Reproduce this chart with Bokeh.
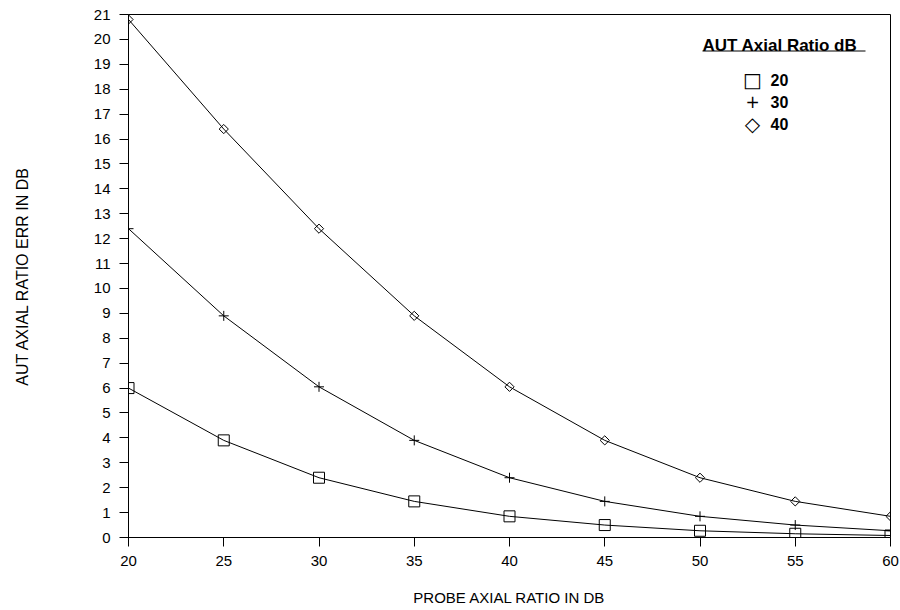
import numpy as np
from bokeh.plotting import figure
from bokeh.models import Range1d, FixedTicker, Label, BoxAnnotation
from bokeh.embed import file_html
from bokeh.resources import INLINE

# Data
probe_ar = [20, 25, 30, 35, 40, 45, 50, 55, 60]
err_aut20 = [6.0, 3.9, 2.4, 1.45, 0.85, 0.5, 0.27, 0.15, 0.08]
err_aut30 = [12.4, 8.9, 6.05, 3.9, 2.4, 1.45, 0.85, 0.5, 0.27]
err_aut40 = [20.8, 16.4, 12.4, 8.9, 6.05, 3.9, 2.4, 1.45, 0.85]
series_labels = ["20", "30", "40"]
legend_symbols = ["\u25a1", "+", "\u25c7"]
x_ticks = [20, 25, 30, 35, 40, 45, 50, 55, 60]
y_ticks = list(range(0, 22))

FONT = "Liberation Sans"

p = figure(width=900, height=610, output_backend="svg", toolbar_location=None,
           x_range=Range1d(20, 60), y_range=Range1d(0, 21),
           min_border_left=128, min_border_right=10, min_border_top=14, min_border_bottom=73)

p.xgrid.visible = False
p.ygrid.visible = False
p.outline_line_color = "black"
p.outline_line_width = 1

for ax in (p.xaxis[0], p.yaxis[0]):
    ax.axis_line_color = "black"
    ax.major_tick_line_color = "black"
    ax.minor_tick_line_color = None
    ax.major_tick_out = 9
    ax.major_tick_in = 0
    ax.major_label_text_font = FONT
    ax.major_label_text_font_size = "15px"
    ax.major_label_text_color = "black"
    ax.axis_label_text_font = FONT
    ax.axis_label_text_font_style = "normal"
    ax.axis_label_text_color = "black"
    ax.major_label_standoff = 9

p.xaxis[0].ticker = FixedTicker(ticks=x_ticks)
p.yaxis[0].ticker = FixedTicker(ticks=y_ticks)
p.xaxis[0].axis_label = "PROBE AXIAL RATIO IN DB"
p.yaxis[0].axis_label = "AUT AXIAL RATIO ERR IN DB"
p.xaxis[0].axis_label_text_font_size = "15px"
p.yaxis[0].axis_label_text_font_size = "16px"
p.xaxis[0].axis_label_standoff = 20
p.yaxis[0].axis_label_standoff = 60

lw = 1
p.line(probe_ar, err_aut20, line_color="black", line_width=lw)
p.line(probe_ar, err_aut30, line_color="black", line_width=lw)
p.line(probe_ar, err_aut40, line_color="black", line_width=lw)

p.scatter(probe_ar, err_aut20, marker="square", size=11, fill_color=None,
          line_color="black", line_width=1)
p.scatter(probe_ar, err_aut30, marker="cross", size=10,
          line_color="black", line_width=1)
p.scatter(probe_ar, err_aut40, marker="square", angle=np.pi / 4, size=6.5,
          fill_color=None, line_color="black", line_width=1)

# Legend drawn as text (title, underline, symbols and values)
title = Label(x=574, y=492, x_units="screen", y_units="screen",
              text="AUT Axial Ratio dB", text_font=FONT, text_font_style="bold",
              text_font_size="17px", text_color="black", text_baseline="alphabetic")
p.add_layout(title)

underline = BoxAnnotation(left=574, right=737, bottom=486, top=487,
                          left_units="screen", right_units="screen",
                          bottom_units="screen", top_units="screen",
                          fill_color="black", fill_alpha=1, line_color=None)
p.add_layout(underline)

row_y = [458, 436, 414]
sym_sizes = ["20px", "17px", "20px"]
for sym, lab, yy, fs in zip(legend_symbols, series_labels, row_y, sym_sizes):
    p.add_layout(Label(x=624, y=yy, x_units="screen", y_units="screen", text=sym,
                       text_font="DejaVu Sans", text_font_size=fs, text_color="black",
                       text_align="center", text_baseline="middle"))
    p.add_layout(Label(x=642, y=yy, x_units="screen", y_units="screen", text=lab,
                       text_font=FONT, text_font_style="bold", text_font_size="16px",
                       text_color="black", text_align="left", text_baseline="middle"))

open("out.html", "w").write(file_html(p, INLINE))
